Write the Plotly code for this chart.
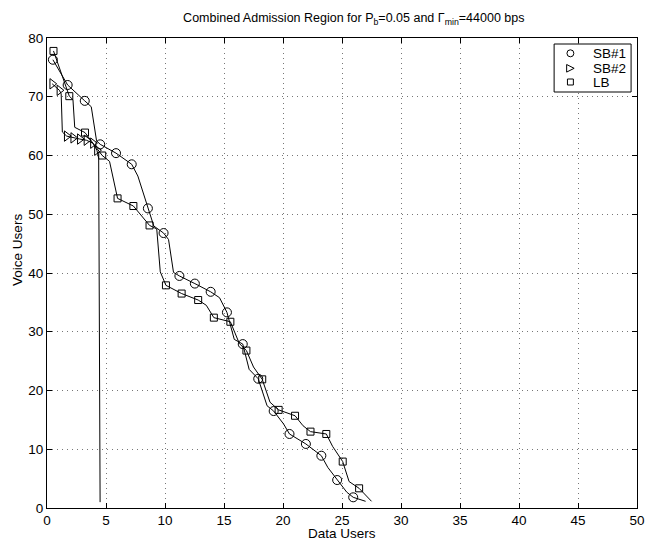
import plotly.graph_objects as go

# ---- SB#1 (circles) ----
sb1_marker_x = [0.50, 1.75, 3.20, 4.51, 5.85, 7.18, 8.55, 9.88, 11.22, 12.53,
                13.87, 15.25, 16.59, 17.90, 19.21, 20.55, 21.94, 23.25, 24.59, 25.95]
sb1_marker_y = [76.3, 72.0, 69.3, 61.9, 60.4, 58.5, 51.0, 46.8, 39.5, 38.2,
                36.8, 33.3, 27.9, 22.0, 16.5, 12.6, 10.9, 8.9, 4.76, 1.82]
sb1_line_x = [0.50, 1.75, 3.20, 3.75, 4.20, 4.51, 5.85, 7.18, 7.70, 8.55, 9.05, 9.88,
              10.30, 10.72, 11.22, 12.53, 13.87, 14.62, 15.25, 15.87, 16.59, 17.13,
              17.90, 18.65, 19.21, 20.05, 20.55, 21.94, 23.25, 23.80, 24.59, 25.40,
              25.95, 27.00]
sb1_line_y = [76.3, 72.0, 69.3, 68.3, 62.5, 61.9, 60.4, 58.5, 56.5, 51.0, 48.0, 46.8,
              45.7, 40.1, 39.5, 38.2, 36.8, 35.8, 33.3, 28.7, 27.9, 23.6,
              22.0, 17.4, 16.5, 14.3, 12.6, 10.9, 8.9, 6.9, 4.76, 2.7,
              1.82, 1.14]

# ---- SB#2 (triangles) ----
sb2_marker_x = [0.44, 1.05, 1.67, 2.22, 2.78, 3.34, 3.89, 4.23]
sb2_marker_y = [72.2, 71.1, 63.3, 63.0, 62.8, 62.6, 62.1, 60.9]
sb2_line_x = [0.44, 1.05, 1.20, 1.30, 1.67, 2.22, 2.78, 3.34, 3.89, 4.23, 4.38, 4.50]
sb2_line_y = [72.2, 71.1, 70.5, 64.0, 63.3, 63.0, 62.8, 62.6, 62.1, 60.9, 59.5, 1.0]

# ---- LB (squares) ----
lb_marker_x = [0.55, 1.89, 3.22, 4.68, 5.98, 7.32, 8.69, 10.08, 11.41, 12.81,
               14.14, 15.54, 16.90, 18.24, 19.63, 21.02, 22.33, 23.67, 25.06, 26.45]
lb_marker_y = [77.8, 70.1, 63.9, 60.0, 52.7, 51.4, 48.1, 37.9, 36.5, 35.4,
               32.4, 31.7, 26.8, 21.9, 16.7, 15.7, 13.0, 12.6, 7.9, 3.35]
lb_line_x = [0.55, 1.89, 2.20, 2.35, 3.22, 4.68, 5.30, 5.98, 7.32, 8.69, 9.30, 9.60,
             10.08, 11.41, 12.81, 13.50, 14.14, 15.54, 16.30, 16.90, 17.50, 18.24,
             18.90, 19.63, 21.02, 21.70, 22.33, 23.67, 24.20, 25.06, 25.60, 26.45, 27.50]
lb_line_y = [77.8, 70.1, 69.5, 64.8, 63.9, 60.0, 59.0, 52.7, 51.4, 48.1, 47.5, 40.2,
             37.9, 36.5, 35.4, 34.5, 32.4, 31.7, 28.0, 26.8, 24.0, 21.9,
             18.0, 16.7, 15.7, 14.0, 13.0, 12.6, 10.5, 7.9, 4.5, 3.35, 1.14]

series_names = ["SB#1", "SB#2", "LB"]
x_ticks = [0, 5, 10, 15, 20, 25, 30, 35, 40, 45, 50]
y_ticks = [0, 10, 20, 30, 40, 50, 60, 70, 80]

FONT = "Liberation Sans, Arial, Helvetica, sans-serif"

# page body has an 8px margin, so the figure is sized 646x534
W, H = 646, 534
ML, MR, MT, MB = 39, 9, 30, 34
PW, PH = W - ML - MR, H - MT - MB


def px(fx):
    return (fx - ML) / PW


def py(fy):
    return (H - MB - fy) / PH


fig = go.Figure()

line_style = dict(color="black", width=1)
for lx, ly in [(sb1_line_x, sb1_line_y), (sb2_line_x, sb2_line_y), (lb_line_x, lb_line_y)]:
    fig.add_trace(go.Scatter(x=lx, y=ly, mode="lines", line=line_style,
                             showlegend=False, hoverinfo="skip"))

marker_defs = [
    (sb1_marker_x, sb1_marker_y, "circle-open", 9),
    (sb2_marker_x, sb2_marker_y, "triangle-right-open", 9),
    (lb_marker_x, lb_marker_y, "square-open", 7),
]
for (mx, my, sym, sz), name in zip(marker_defs, series_names):
    fig.add_trace(go.Scatter(x=mx, y=my, mode="markers", name=name, showlegend=False,
                             marker=dict(symbol=sym, size=sz, color="black",
                                         line=dict(color="black", width=1))))

axis_common = dict(
    showline=True, linecolor="black", linewidth=1, mirror="ticks",
    ticks="inside", ticklen=5, tickcolor="black",
    showgrid=True, gridcolor="#777777", gridwidth=1, griddash="1px,4px",
    zeroline=False, tickfont=dict(family=FONT, size=13.5, color="black"),
)

# ---- hand-drawn legend (box, symbols, labels) ----
shapes = [dict(type="rect", xref="paper", yref="paper",
               x0=px(553), x1=px(631), y0=py(84), y1=py(36),
               fillcolor="white", line=dict(color="black", width=1), layer="above")]
rows = [45.3, 60.3, 74.0]
mxc = 569.5
r = 3.5
lw = dict(color="black", width=1)
shapes.append(dict(type="circle", xref="paper", yref="paper",
                   x0=px(mxc - r), x1=px(mxc + r), y0=py(rows[0] + r), y1=py(rows[0] - r),
                   line=lw, layer="above"))
t = 3.8
shapes.append(dict(type="path", xref="paper", yref="paper",
                   path=f"M {px(mxc - t)} {py(rows[1] - t)} L {px(mxc + t)} {py(rows[1])} "
                        f"L {px(mxc - t)} {py(rows[1] + t)} Z",
                   line=lw, layer="above"))
s = 3.0
shapes.append(dict(type="rect", xref="paper", yref="paper",
                   x0=px(mxc - s), x1=px(mxc + s), y0=py(rows[2] + s), y1=py(rows[2] - s),
                   line=lw, layer="above"))

annotations = [
    dict(text="Data Users", x=0.5, xref="paper", y=py(534), yref="paper",
         xanchor="center", yanchor="bottom", showarrow=False, borderpad=0,
         font=dict(family=FONT, size=13.5, color="black")),
    dict(text="Voice Users", x=px(9), xref="paper", y=0.55, yref="paper",
         xanchor="center", yanchor="middle", showarrow=False, textangle=-90,
         font=dict(family=FONT, size=13.5, color="black")),
]
for name, ry in zip(series_names, rows):
    annotations.append(dict(text=name, x=px(590), xref="paper", y=py(ry), yref="paper",
                            xanchor="left", yanchor="middle", showarrow=False,
                            font=dict(family=FONT, size=13.5, color="black")))

fig.update_layout(
    width=W, height=H,
    paper_bgcolor="white", plot_bgcolor="white",
    margin=dict(l=ML, r=MR, t=MT, b=MB),
    font=dict(family=FONT, color="black"),
    title=dict(text="Combined Admission Region for P<sub>b</sub>=0.05 and Γ<sub>min</sub>=44000 bps",
               x=0.52, xref="paper", xanchor="center", y=1 - 10 / H, yref="container",
               yanchor="middle", font=dict(family=FONT, size=12.5, color="black")),
    xaxis=dict(range=[0, 50], tickvals=x_ticks, ticktext=[str(v) for v in x_ticks],
               **axis_common),
    yaxis=dict(range=[0, 80], tickvals=y_ticks, ticktext=[str(v) for v in y_ticks],
               **axis_common),
    shapes=shapes,
    annotations=annotations,
    showlegend=False,
)

fig.write_html("out.html")
